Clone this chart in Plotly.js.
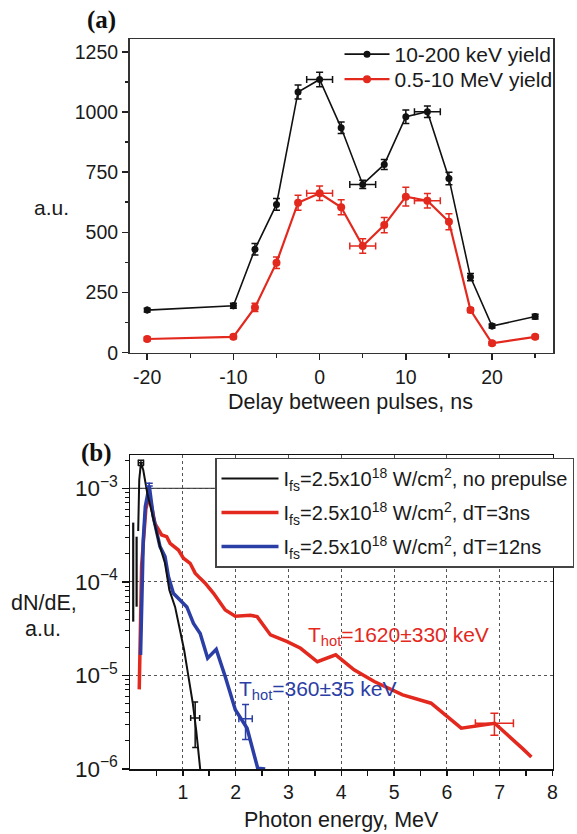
<!DOCTYPE html>
<html>
<head>
<meta charset="utf-8">
<script src="https://cdn.plot.ly/plotly-3.0.1.min.js"></script>
<style>html,body{margin:0;padding:0;background:#fff;}#chart{width:577px;height:834px;}</style>
</head>
<body>
<div id="chart"></div>
<script>
// ---------- Panel (a) data ----------
const delayNs = [-20, -10, -7.5, -5, -2.5, 0, 2.5, 5, 7.5, 10, 12.5, 15, 17.5, 20, 25];
const delayErr = [null, null, null, null, null, 1.5, null, 1.5, null, null, 1.5, null, null, null, null];
const yieldLow = [177, 195, 430, 616, 1083, 1135, 934, 699, 782, 980, 1001, 724, 314, 111, 150];
const yieldLowErr = [8, 10, 24, 24, 29, 30, 24, 17, 21, 28, 24, 26, 15, 8, 10];
const yieldHigh = [57, 66, 188, 374, 623, 662, 604, 443, 530, 648, 631, 544, 177, 39, 66];
const yieldHighErr = [8, 8, 17, 24, 31, 30, 31, 30, 32, 39, 30, 33, 10, 8, 8];
const nameLow = "10-200 keV yield";
const nameHigh = "0.5-10 MeV yield";
const delayTicks = [-20, -10, 0, 10, 20];
const delayTickText = ['-20', '-10', '0', '10', '20'];

// ---------- Panel (b) data ----------
const blackE = [0.155, 0.175, 0.207, 0.251, 0.327, 0.441, 0.568, 0.663, 0.745, 0.854, 0.949, 1.025, 1.107, 1.19, 1.253, 1.329];
const blackY = [3.5e-4, 1.23e-3, 1.87e-3, 1.57e-3, 8.85e-4, 4.58e-4, 2.38e-4, 1.58e-4, 8.2e-5, 5.4e-5, 3.06e-5, 1.87e-5, 9.7e-6, 5.0e-6, 2.6e-6, 1.0e-6];
const blackLowE = [0.061, 0.061, null, 0.125, 0.125];
const blackLowY = [4.3e-4, 3.76e-5, null, 3.04e-4, 5.43e-5];
const redE = [0.175, 0.188, 0.22, 0.3, 0.365, 0.473, 0.6, 0.695, 0.759, 0.917, 1.012, 1.139, 1.234, 1.329, 1.424, 1.582, 1.804, 1.994, 2.28, 2.407, 2.66, 2.977, 3.23, 3.548, 3.895, 4.243, 4.624, 5.163, 5.701, 6.272, 6.905, 7.445, 7.6];
const redY = [7.1e-6, 1.59e-5, 1.5e-4, 6.0e-4, 8.5e-4, 4.2e-4, 3.17e-4, 3.04e-4, 2.58e-4, 2.19e-4, 1.79e-4, 1.58e-4, 1.24e-4, 1.09e-4, 9.7e-5, 7.55e-5, 5.0e-5, 4.3e-5, 4.4e-5, 4.25e-5, 2.71e-5, 2.3e-5, 1.95e-5, 1.4e-5, 1.66e-5, 1.15e-5, 8.6e-6, 6.2e-6, 5.05e-6, 2.73e-6, 3.08e-6, 1.63e-6, 1.34e-6];
const blueE = [0.2, 0.22, 0.251, 0.29, 0.365, 0.441, 0.568, 0.663, 0.727, 0.821, 0.949, 1.076, 1.202, 1.329, 1.47, 1.633, 1.804, 1.994, 2.217, 2.418, 2.56];
const blueY = [1.66e-5, 8.2e-5, 2.8e-4, 6.4e-4, 1.06e-3, 4.98e-4, 2.38e-4, 1.86e-4, 1.14e-4, 7.55e-5, 6.4e-5, 5.4e-5, 3.6e-5, 2.8e-5, 1.53e-5, 1.9e-5, 9.7e-6, 4.3e-6, 2.73e-6, 1.02e-6, 1.0e-6];
// error-bar points (center, upper, lower, x half-width)
const blackErrPt = {E: [1.234, 0.207], y: [3.5e-6, 1.87e-3], up: [1.7e-6, 0.12e-3], dn: [1.8e-6, 0.12e-3], dx: [0.085, 0.05]};
const blueErrPt = {E: [2.188, 0.365], y: [3.45e-6, 1.06e-3], up: [1.45e-6, 0.07e-3], dn: [1.38e-6, 0.0], dx: [0.127, 0]};
const redErrPt = {E: [6.9], y: [3.08e-6], up: [0.86e-6], dn: [0.79e-6], dx: [0.36]};
const energyTicks = [1, 2, 3, 4, 5, 6, 7, 8];
const name0 = "I<sub>fs</sub>=2.5x10<sup>18</sup> W/cm<sup>2</sup>, no prepulse";
const name3 = "I<sub>fs</sub>=2.5x10<sup>18</sup> W/cm<sup>2</sup>, dT=3ns";
const name12 = "I<sub>fs</sub>=2.5x10<sup>18</sup> W/cm<sup>2</sup>, dT=12ns";
const thotRed = "T<sub>hot</sub>=1620±330 keV";
const thotBlue = "T<sub>hot</sub>=360±35 keV";

const RED = '#e3281e', BLUE = '#2b3ea6', BLK = '#111111';
const FONT = 'Liberation Sans, Arial, Helvetica, sans-serif';
const W = 577, H = 834;
const px = v => v / W, py = v => 1 - v / H;

const traces = [
  {x: delayNs, y: yieldLow, xaxis: 'x', yaxis: 'y', name: nameLow, mode: 'lines+markers',
   line: {color: BLK, width: 1.6}, marker: {color: BLK, size: 7},
   error_y: {type: 'data', array: yieldLowErr, color: BLK, thickness: 1.5, width: 3.5},
   error_x: {type: 'data', array: delayErr, color: BLK, thickness: 1.5, width: 3.5},
   legend: 'legend'},
  {x: delayNs, y: yieldHigh, xaxis: 'x', yaxis: 'y', name: nameHigh, mode: 'lines+markers',
   line: {color: RED, width: 2.2}, marker: {color: RED, size: 8},
   error_y: {type: 'data', array: yieldHighErr, color: RED, thickness: 1.5, width: 3.5},
   error_x: {type: 'data', array: delayErr, color: RED, thickness: 1.5, width: 3.5},
   legend: 'legend3'},
  // panel b
  {x: redE, y: redY, xaxis: 'x2', yaxis: 'y2', name: name3, mode: 'lines',
   line: {color: RED, width: 3.5}, legend: 'legend2', legendrank: 2, legendgroup: 'g3'},
  {x: blueE, y: blueY, xaxis: 'x2', yaxis: 'y2', name: name12, mode: 'lines',
   line: {color: BLUE, width: 3.5}, legend: 'legend2', legendrank: 3, legendgroup: 'g12'},
  {x: blackE, y: blackY, xaxis: 'x2', yaxis: 'y2', name: name0, mode: 'lines',
   line: {color: BLK, width: 2}, legend: 'legend2', legendrank: 1, legendgroup: 'g0'},
  {x: blackLowE, y: blackLowY, xaxis: 'x2', yaxis: 'y2', mode: 'lines', connectgaps: false,
   line: {color: BLK, width: 2.2}, showlegend: false, hoverinfo: 'skip'},
  {x: blackErrPt.E, y: blackErrPt.y, xaxis: 'x2', yaxis: 'y2', mode: 'markers', showlegend: false,
   marker: {size: 1, color: 'rgba(0,0,0,0)'},
   error_y: {type: 'data', symmetric: false, array: blackErrPt.up, arrayminus: blackErrPt.dn, color: BLK, thickness: 1.5, width: 3},
   error_x: {type: 'data', array: blackErrPt.dx, color: BLK, thickness: 1.5, width: 3}},
  {x: blueErrPt.E, y: blueErrPt.y, xaxis: 'x2', yaxis: 'y2', mode: 'markers', showlegend: false,
   marker: {size: 1, color: 'rgba(0,0,0,0)'},
   error_y: {type: 'data', symmetric: false, array: blueErrPt.up, arrayminus: blueErrPt.dn, color: BLUE, thickness: 1.5, width: 3.5},
   error_x: {type: 'data', array: blueErrPt.dx, color: BLUE, thickness: 1.5, width: 3.5}},
  {x: redErrPt.E, y: redErrPt.y, xaxis: 'x2', yaxis: 'y2', mode: 'markers', showlegend: false,
   marker: {size: 1, color: 'rgba(0,0,0,0)'},
   error_y: {type: 'data', symmetric: false, array: redErrPt.up, arrayminus: redErrPt.dn, color: RED, thickness: 1.5, width: 4},
   error_x: {type: 'data', array: redErrPt.dx, color: RED, thickness: 1.5, width: 4}}
];

const tickFont = {family: FONT, size: 19.5, color: '#1a1a1a'};
const legFont = {family: FONT, size: 20, color: '#1a1a1a'};
const legFontA = {family: FONT, size: 21, color: '#1a1a1a'};
function ann(text, x, y, size, opts) {
  return Object.assign({text: text, xref: 'paper', yref: 'paper', x: px(x), y: py(y), xanchor: 'center', yanchor: 'middle',
    showarrow: false, font: {family: FONT, size: size, color: '#1a1a1a'}}, opts || {});
}
const layout = {
  width: W, height: H,
  margin: {l: 0, r: 0, t: 0, b: 0, pad: 0},
  paper_bgcolor: '#fff', plot_bgcolor: '#fff',
  font: {family: FONT, color: '#1a1a1a'},
  xaxis: {domain: [px(129.5), px(553)], anchor: 'y', range: [-22.05, 27.07],
    tickmode: 'array', tickvals: delayTicks, ticktext: delayTickText, ticks: 'outside', ticklen: 6, tickwidth: 1.5, tickcolor: '#222',
    minor: {tickmode: 'linear', tick0: 5, dtick: 10, ticks: 'outside', ticklen: 3.5, tickwidth: 1.5, tickcolor: '#222', showgrid: false},
    showline: true, linecolor: '#333', linewidth: 1.5, mirror: true, showgrid: false, zeroline: false,
    tickfont: tickFont},
  yaxis: {domain: [py(352.7), py(39)], anchor: 'x', range: [0, 1303],
    tickmode: 'linear', tick0: 0, dtick: 250, ticks: 'outside', ticklen: 6, tickwidth: 1.5, tickcolor: '#222',
    minor: {tickmode: 'linear', tick0: 125, dtick: 250, ticks: 'outside', ticklen: 3.5, tickwidth: 1.5, tickcolor: '#222', showgrid: false},
    showline: true, linecolor: '#333', linewidth: 1.5, mirror: true, showgrid: false, zeroline: false,
    tickfont: tickFont},
  xaxis2: {domain: [px(130), px(552.5)], anchor: 'y2', range: [0, 8],
    tickmode: 'array', tickvals: energyTicks, ticks: 'outside', ticklen: 5, tickwidth: 1.5, tickcolor: '#111',
    minor: {tickmode: 'linear', tick0: 0.5, dtick: 1, ticks: 'outside', ticklen: 5, tickwidth: 1.5, tickcolor: '#111', showgrid: false},
    showline: true, linecolor: '#111', linewidth: 1.5, mirror: true,
    showgrid: true, gridcolor: '#555', griddash: 'dot', gridwidth: 1, zeroline: false,
    tickfont: {family: FONT, size: 19.5, color: '#1a1a1a'}},
  yaxis2: {domain: [py(769), py(455)], anchor: 'x2', type: 'log', range: [-6, -2.644],
    dtick: 1, exponentformat: 'power', showexponent: 'all',
    ticks: 'outside', ticklen: 7, tickwidth: 1.5, tickcolor: '#111',
    minor: {dtick: 'D1', ticks: 'outside', ticklen: 3.5, tickwidth: 1, tickcolor: '#111', showgrid: false},
    showline: true, linecolor: '#111', linewidth: 1.5, mirror: true,
    showgrid: true, gridcolor: '#555', griddash: 'dot', gridwidth: 1, zeroline: false,
    tickfont: {family: FONT, size: 18, color: '#1a1a1a'}},
  legend: {x: px(339.5), y: py(34), xanchor: 'left', yanchor: 'top', bgcolor: 'rgba(0,0,0,0)', borderwidth: 0,
    font: legFontA, itemwidth: 45},
  legend3: {x: px(339.5), y: py(59), xanchor: 'left', yanchor: 'top', bgcolor: 'rgba(0,0,0,0)', borderwidth: 0,
    font: legFontA, itemwidth: 45},
  legend2: {x: px(215), y: py(457.5), xanchor: 'left', yanchor: 'top', bgcolor: '#fff', bordercolor: '#444', borderwidth: 1.5,
    font: legFont, itemwidth: 57, traceorder: 'grouped', tracegroupgap: 5},
  shapes: [
    {type: 'line', xref: 'x2 domain', x0: 0, x1: 1, yref: 'y2', y0: 1e-3, y1: 1e-3, line: {color: '#111', width: 1}, layer: 'below'}
  ],
  annotations: [
    ann('<b>(a)</b>', 101, 20, 25, {font: {family: 'Liberation Serif, Times New Roman, serif', size: 25, color: '#111'}}),
    ann('<b>(b)</b>', 96.5, 453, 25, {font: {family: 'Liberation Serif, Times New Roman, serif', size: 25, color: '#111'}}),
    ann('a.u.', 51.5, 207, 21),
    ann('Delay between pulses, ns', 350, 401.7, 21.5),
    ann('dN/dE,', 44, 602.7, 21.5),
    ann('a.u.', 42.5, 628.5, 21.5),
    ann('Photon energy, MeV', 341.4, 820, 21.5),
    ann(thotRed, 305.5, 636, 21, {xanchor: 'left', font: {family: FONT, size: 21, color: RED}}),
    ann(thotBlue, 237, 690, 21, {xanchor: 'left', font: {family: FONT, size: 21, color: BLUE}})
  ]
};

Plotly.newPlot('chart', traces, layout, {staticPlot: true, displayModeBar: false});
</script>
</body>
</html>
